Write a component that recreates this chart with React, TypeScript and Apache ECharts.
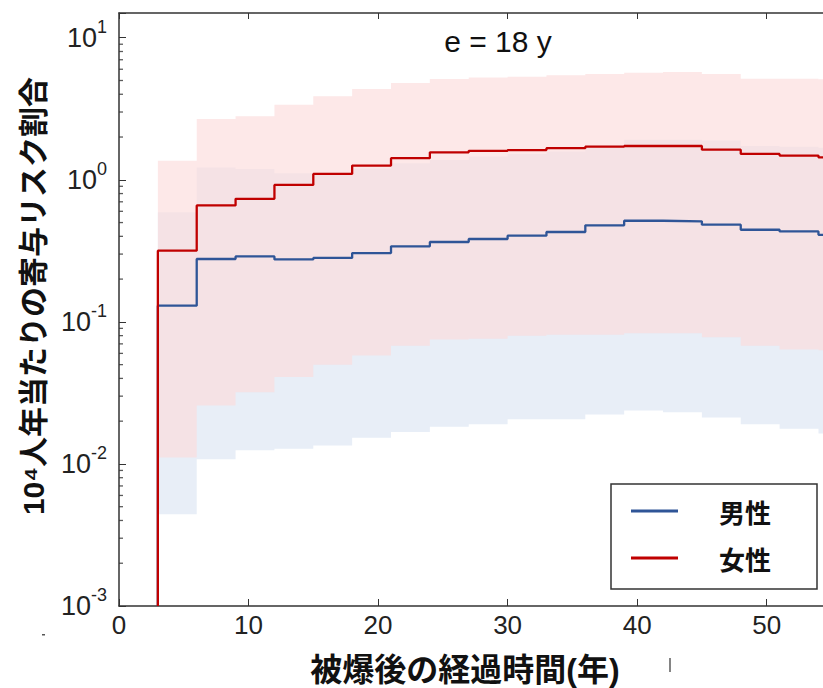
import React, { useEffect, useRef } from "react";
import * as echarts from "echarts";

// ---- data ----
const X_MAX = 54.35;
const Y_MIN = 0.001;
const Y_MAX = 14.93;
const binStart = [3, 6, 9, 12, 15, 18, 21, 24, 27, 30, 33, 36, 39, 42, 45, 48, 51, 54];
const maleRisk = [0.13, 0.277, 0.289, 0.275, 0.282, 0.305, 0.34, 0.365, 0.383, 0.404, 0.429, 0.478, 0.515, 0.51, 0.483, 0.445, 0.433, 0.41];
const femaleRisk = [0.317, 0.66, 0.735, 0.92, 1.1, 1.26, 1.42, 1.56, 1.6, 1.62, 1.67, 1.71, 1.73, 1.73, 1.63, 1.52, 1.48, 1.44];
const maleUpper = [0.59, 1.22, 1.19, 1.11, 1.12, 1.2, 1.31, 1.38, 1.46, 1.52, 1.58, 1.75, 1.91, 1.91, 1.89, 1.73, 1.71, 1.68];
const maleLower = [0.00443, 0.0108, 0.0125, 0.0128, 0.0135, 0.0153, 0.0168, 0.0183, 0.019, 0.0206, 0.0206, 0.0223, 0.0238, 0.0231, 0.0212, 0.019, 0.0177, 0.0164];
const femaleUpper = [1.36, 2.68, 2.8, 3.37, 3.87, 4.36, 4.8, 5.13, 5.24, 5.32, 5.44, 5.56, 5.68, 5.74, 5.56, 5.15, 5.15, 5.1];
const femaleLower = [0.0111, 0.0258, 0.032, 0.041, 0.05, 0.058, 0.068, 0.075, 0.076, 0.08, 0.081, 0.081, 0.083, 0.083, 0.078, 0.068, 0.064, 0.063];
const xTicks = [0, 10, 20, 30, 40, 50];
const yMinorTicks = [
  0.002, 0.003, 0.004, 0.005, 0.006, 0.007, 0.008, 0.009,
  0.02, 0.03, 0.04, 0.05, 0.06, 0.07, 0.08, 0.09,
  0.2, 0.3, 0.4, 0.5, 0.6, 0.7, 0.8, 0.9,
  2, 3, 4, 5, 6, 7, 8, 9,
];
const seriesNames = ["男性", "女性"];
const titleText = "e = 18 y";
const yTitle = "10⁴人年当たりの寄与リスク割合";
const xTitle = "被爆後の経過時間(年)";

const BLUE = "#2f5597";
const RED = "#c00000";
const AXIS = "#333";
const LATIN = '"Liberation Sans", Arial, sans-serif';
const CJK = '"Liberation Sans", "Noto Sans CJK JP", sans-serif';

function stepPts(vals: number[]) {
  const pts = binStart.map((x, i) => [x, vals[i]]);
  pts.push([X_MAX, vals[vals.length - 1]]);
  return pts;
}
function linePts(vals: number[]) {
  return [[binStart[0], Y_MIN], ...stepPts(vals)];
}
// edges of each bin: [start, end]
function binEdges() {
  return binStart.map((x, i) => [x, i + 1 < binStart.length ? binStart[i + 1] : X_MAX]);
}

function bandSeries(lo: number[], hi: number[], color: string, z: number) {
  return {
    type: "custom",
    silent: true,
    z,
    data: [0],
    renderItem: (_params: any, api: any) => {
      const edges = binEdges();
      const pts: number[][] = [];
      edges.forEach(([a, b], i) => {
        pts.push(api.coord([a, hi[i]]));
        pts.push(api.coord([b, hi[i]]));
      });
      for (let i = edges.length - 1; i >= 0; i--) {
        const [a, b] = edges[i];
        pts.push(api.coord([b, lo[i]]));
        pts.push(api.coord([a, lo[i]]));
      }
      return { type: "polygon", shape: { points: pts }, style: { fill: color }, silent: true };
    },
  };
}

export default function App() {
  const ref = useRef<HTMLDivElement>(null);
  useEffect(() => {
    if (!ref.current) return;
    const chart = echarts.init(ref.current, null, { renderer: "svg" });
    chart.setOption({
      animation: false,
      backgroundColor: "#fff",
      grid: { left: 119, top: 13, right: 0, bottom: 82 },
      legend: {
        data: seriesNames,
        orient: "vertical",
        left: 611,
        top: 484,
        padding: [14, 46, 18, 20],
        itemGap: 21,
        itemWidth: 47,
        itemHeight: 3,
        icon: "rect",
        backgroundColor: "#fff",
        borderColor: AXIS,
        borderWidth: 1.5,
        borderRadius: 0,
        textStyle: {
          fontSize: 26,
          fontWeight: "bold",
          fontFamily: '"Noto Sans CJK JP", sans-serif',
          color: "#111",
          padding: [0, 0, 0, 36],
        },
      },
      xAxis: [
        {
          type: "value",
          min: 0,
          max: X_MAX,
          interval: 10,
          position: "bottom",
          splitLine: { show: false },
          axisLine: { onZero: false, lineStyle: { color: AXIS, width: 1.5 } },
          axisTick: { inside: true, length: 7, lineStyle: { color: AXIS } },
          axisLabel: {
            margin: 6,
            fontSize: 26,
            fontFamily: LATIN,
            color: "#222",
            showMaxLabel: false,
            formatter: (v: number) => (xTicks.includes(v) ? String(v) : ""),
          },
        },
        {
          type: "value",
          min: 0,
          max: X_MAX,
          interval: 10,
          position: "top",
          splitLine: { show: false },
          axisLine: { onZero: false, lineStyle: { color: AXIS, width: 1.5 } },
          axisTick: { inside: true, length: 6, lineStyle: { color: AXIS } },
          axisLabel: { show: false },
        },
      ],
      yAxis: {
        type: "log",
        logBase: 10,
        min: Y_MIN,
        max: Y_MAX,
        splitLine: { show: false },
        axisLine: { lineStyle: { color: AXIS, width: 1.5 } },
        axisTick: { inside: true, length: 7, lineStyle: { color: AXIS } },
        axisLabel: {
          margin: 12,
          formatter: (v: number) => {
            const e = Math.log10(v);
            const r = Math.round(e);
            if (Math.abs(e - r) > 1e-6) return "";
            return `{b|10}{s|${r}}`;
          },
          rich: {
            b: { fontSize: 27, fontFamily: LATIN, color: "#222" },
            s: { fontSize: 18, fontFamily: LATIN, color: "#222", padding: [0, 0, 22, 0] },
          },
        },
      },
      series: [
        bandSeries(maleLower, maleUpper, "#e8eef7", 1),
        bandSeries(femaleLower, femaleUpper, "rgba(252,220,220,0.65)", 2),
        {
          name: seriesNames[0],
          type: "line",
          step: "end",
          data: linePts(maleRisk),
          symbol: "none",
          lineStyle: { color: BLUE, width: 2.3 },
          itemStyle: { color: BLUE },
          z: 3,
        },
        {
          name: seriesNames[1],
          type: "line",
          step: "end",
          data: linePts(femaleRisk),
          symbol: "none",
          lineStyle: { color: RED, width: 2.3 },
          itemStyle: { color: RED },
          z: 4,
        },
        {
          type: "scatter",
          data: yMinorTicks.map((v) => [0, v]),
          symbol: "rect",
          symbolSize: [4, 1.3],
          symbolOffset: [2, 0],
          itemStyle: { color: AXIS },
          silent: true,
          z: 5,
        },
      ],
      graphic: [
        {
          type: "text",
          x: 498,
          y: 41,
          z: 10,
          style: { text: titleText, fontSize: 30, fontFamily: LATIN, fill: "#111", align: "center", verticalAlign: "middle" },
        },
        {
          type: "text",
          x: 33,
          y: 296,
          z: 10,
          rotation: Math.PI / 2,
          style: { text: yTitle, fontSize: 30, fontWeight: "bold", fontFamily: CJK, fill: "#111", align: "center", verticalAlign: "middle" },
        },
        {
          type: "text",
          x: 465,
          y: 670,
          z: 10,
          style: { text: xTitle, fontSize: 32, fontWeight: "bold", fontFamily: CJK, fill: "#111", align: "center", verticalAlign: "middle" },
        },
        { type: "line", z: 10, shape: { x1: 670, y1: 658, x2: 670, y2: 672 }, style: { stroke: "#333", lineWidth: 1.2 } },
        { type: "rect", z: 10, shape: { x: 42, y: 634, width: 3, height: 1.5 }, style: { fill: "#555" } },
      ],
    });
    return () => chart.dispose();
  }, []);
  return (
    <div
      ref={ref}
      style={{ position: "fixed", left: 0, top: 0, width: 823, height: 688, background: "#fff" }}
    />
  );
}
